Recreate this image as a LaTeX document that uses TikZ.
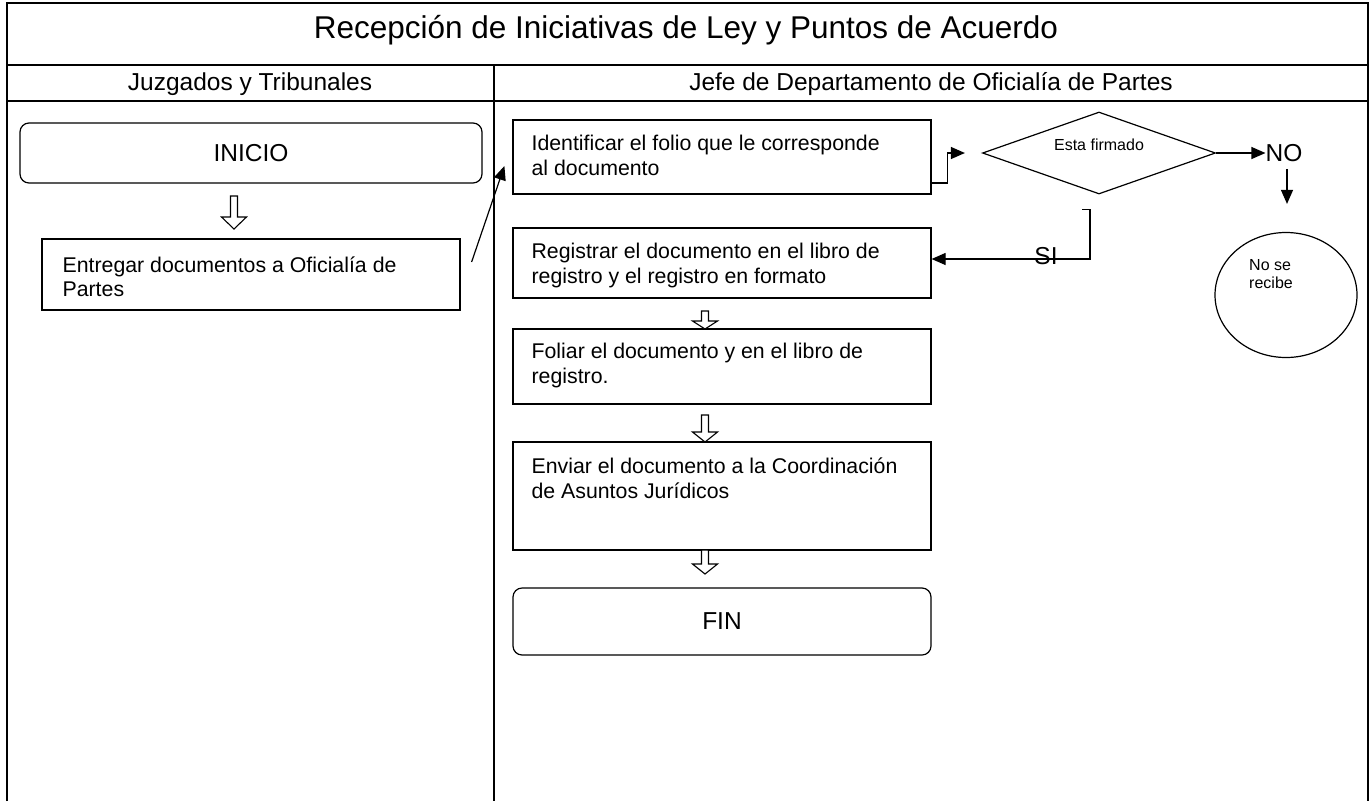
\documentclass[tikz,border=0pt]{standalone}
\usepackage{fontspec}
\setmainfont{Liberation Sans}
\usetikzlibrary{shapes.geometric,arrows.meta,calc}
\begin{document}
\begin{tikzpicture}[x=1pt,y=-1pt,
  tbl/.style={line width=1.1pt},
  procbox/.style={draw, line width=1.2pt, rectangle, inner sep=0pt, minimum width=418pt},
  termbox/.style={procbox, rounded corners=9pt},
  body/.style={inner sep=0pt, align=left, font=\fontsize{21.3}{24.5}\selectfont},
  big/.style={inner sep=0pt, font=\fontsize{24.5}{28}\selectfont},
  small/.style={inner sep=0pt, align=left, font=\fontsize{16}{18.5}\selectfont},
  conn/.style={line width=1.2pt, -{Triangle[length=14pt,width=12pt]}},
  hollow/.style={draw, line width=1.1pt, line join=miter, fill=white}
]
\useasboundingbox (0,0) rectangle (1370,801);
% table
\draw[tbl] (7,801) -- (7,3) -- (1368,3) -- (1368,801);
\draw[tbl] (7,65) -- (1368,65);
\draw[tbl] (7,101) -- (1368,101);
\draw[tbl] (494,65) -- (494,801);
\node[inner sep=0pt, font=\fontsize{31.5}{36}\selectfont] (title) at (686,30) {Recepción de Iniciativas de Ley y Puntos de Acuerdo};
\node[big] (lane1) at (250,84) {Juzgados y Tribunales};
\node[big] (lane2) at (931,84) {Jefe de Departamento de Oficialía de Partes};
% boxes
\node[termbox, minimum width=462pt, minimum height=60pt] (inicio) at (251,153) {};
\node[big] (inicioT) at (inicio.center) {INICIO};
\node[procbox, minimum height=71pt] (entregar) at (251,274.5) {};
\node[body, anchor=west] (entregarT) at ($(entregar.west)+(21,2.5)$) {Entregar documentos a Oficialía de\\Partes};
\node[procbox, minimum height=74pt] (ident) at (722,157) {};
\node[body, anchor=west] (identT) at ($(ident.west)+(19,-1.5)$) {Identificar el folio que le corresponde\\al documento};
\node[procbox, minimum height=70pt] (regis) at (722,263) {};
\node[body, anchor=west] (regisT) at ($(regis.west)+(19,2.5)$) {Registrar el documento en el libro de\\registro y el registro en formato};
\node[procbox, minimum height=75pt] (foliar) at (722,366.5) {};
\node[body, anchor=west] (foliarT) at ($(foliar.west)+(19,-1)$) {Foliar el documento y en el libro de\\registro.};
\node[procbox, minimum height=108pt] (enviar) at (722,496) {};
\node[body, anchor=west] (enviarT) at ($(enviar.west)+(19,-17.5)$) {Enviar el documento a la Coordinación\\de Asuntos Jurídicos};
\node[termbox, minimum height=67pt] (fin) at (722,621.5) {};
\node[big] (finT) at (fin.center) {FIN};
\node[draw, line width=1.2pt, diamond, inner sep=0pt, minimum width=233pt, minimum height=82pt] (dec) at (1099,153) {};
\node[small] (decT) at (1099,145) {Esta firmado};
\node[big] (no) at (1284,153) {NO};
\node[draw, line width=1.2pt, ellipse, inner sep=0pt, minimum width=142pt, minimum height=125pt] (norec) at (1286,295) {};
\node[small] (norecT) at (1271,274) {No se\\recibe};
% hollow block arrows: x, top, tip, head length
\newcommand\blockarr[4]{%
  \path[hollow] (#1-3.5,#2) -- (#1-3.5,#3-#4) -- (#1-12.5,#3-#4) -- (#1,#3)
    -- (#1+12.5,#3-#4) -- (#1+3.5,#3-#4) -- (#1+3.5,#2) -- cycle;}
\blockarr{234}{196}{229}{12}
\blockarr{705}{311}{329}{8}
\blockarr{705}{415}{442}{10}
\blockarr{705}{550}{574}{10}
% connectors
\coordinate (e1) at ($(entregar.east)+(11,-12.5)$);
\coordinate (e2) at ($(ident.west)+(-8,9)$);
\draw[conn] (e1) -- (e2);
\coordinate (i1) at ($(ident.east)+(0,26)$);
\coordinate (d1) at ($(dec.west)+(-17,0)$);
\draw[conn] (i1) -- ++(16,0) |- (d1);
\draw[conn] (dec.east) -- (no.west);
\coordinate (n2) at ($(norec.north)+(1,-28)$);
\draw[conn] ($(no.south)+(3,7)$) -- (n2);
\coordinate (s0) at ($(dec.south)+(-17,15)$);
\coordinate (s1) at ($(regis.east)+(0,-4)$);
\node[big] (si) at (1046,256) {SI};
\draw[conn] (s0) -- ++(8,0) |- (s1);
\end{tikzpicture}
\end{document}
